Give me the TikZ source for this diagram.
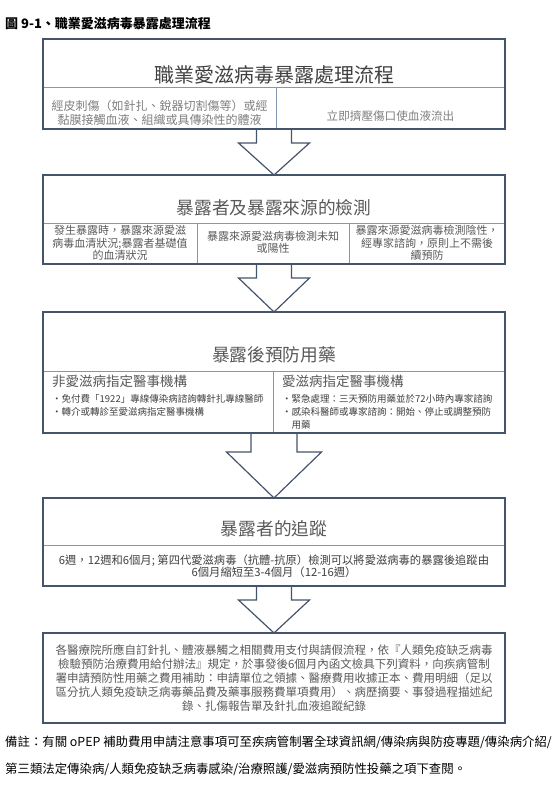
\documentclass[tikz,border=0pt]{standalone}
\usepackage{fontspec}
\setmainfont{Noto Sans CJK TC}
\usetikzlibrary{positioning,calc,backgrounds}

\definecolor{framecol}{HTML}{44546A}
\definecolor{divcol}{HTML}{8497B0}
\definecolor{titlecol}{HTML}{595959}
\definecolor{bodycol}{HTML}{595959}
\definecolor{darkcol}{HTML}{404040}
\definecolor{lightcol}{HTML}{7F7F7F}

% block arrow: from, to, half shaft, half head, shaft length
\newcommand{\blockarrow}[5]{%
  \draw[arrowline] ($(#1.south)+(-#3,0)$) -- ($(#1.south)+(-#3,-#5)$) -- ($(#1.south)+(-#4,-#5)$)
    -- (#2.north) -- ($(#1.south)+(#4,-#5)$) -- ($(#1.south)+(#3,-#5)$) -- ($(#1.south)+(#3,0)$);}

\begin{document}
\begin{tikzpicture}[x=1pt,y=1pt,
  frame/.style={draw=framecol,line width=1.4pt,minimum width=462pt,inner sep=0pt,outer sep=0pt},
  divider/.style={draw=divcol,line width=0.8pt},
  arrowline/.style={draw=framecol,line width=1.2pt,line join=miter},
  ttl/.style={text=titlecol,inner sep=0pt,font=\fontsize{17.7}{20}\selectfont},
  cell/.style={align=center,inner sep=0pt,text=bodycol,font=\fontsize{11}{12.3}\selectfont},
  subhead/.style={anchor=west,inner sep=0pt,text=titlecol,font=\fontsize{13.5}{15}\selectfont},
  bullets/.style={anchor=north west,align=left,inner sep=0pt,text=darkcol,font=\fontsize{9.5}{13}\selectfont},
  note/.style={anchor=west,inner sep=0pt,text=black,font=\fontsize{12.4}{15}\selectfont}]
  \useasboundingbox (0,0) rectangle (554,-794);

  \node[note,font=\bfseries\fontsize{13}{15}\selectfont] (caption) at (5,-24) {圖 9-1、職業愛滋病毒暴露處理流程};

  % frames
  \node[frame,minimum height=90pt] (b1) at (274,-84) {};
  \node[frame,minimum height=89pt,below=46pt of b1] (b2) {};
  \node[frame,minimum height=121pt,below=48pt of b2] (b3) {};
  \node[frame,minimum height=88pt,below=65pt of b3] (b4) {};
  \node[frame,minimum height=90pt,below=47pt of b4] (b5) {};

  % cell dividers
  \begin{scope}[on background layer]
    \draw[divider] ($(b1.north west)+(0,-48)$) -- ($(b1.north east)+(0,-48)$);
    \draw[divider] ($(b1.north west)+(233,-48)$) -- ($(b1.south west)+(233,0)$);
    \draw[divider] ($(b2.north west)+(0,-48)$) -- ($(b2.north east)+(0,-48)$);
    \draw[divider] ($(b2.north west)+(154,-48)$) -- ($(b2.south west)+(154,0)$);
    \draw[divider] ($(b2.north west)+(306,-48)$) -- ($(b2.south west)+(306,0)$);
    \draw[divider] ($(b3.north west)+(0,-59)$) -- ($(b3.north east)+(0,-59)$);
    \draw[divider] ($(b3.north west)+(230,-59)$) -- ($(b3.south west)+(230,0)$);
    \draw[divider] ($(b4.north west)+(0,-47)$) -- ($(b4.north east)+(0,-47)$);
  \end{scope}

  % box 1
  \node[ttl,text=darkcol,font=\fontsize{20}{24}\selectfont] (t1) at ($(b1.north)+(0,-36)$) {職業愛滋病毒暴露處理流程};
  \node[cell,text=lightcol,font=\fontsize{12}{13.5}\selectfont] (exp) at ($(b1.north west)+(116.5,-74)$) {經皮刺傷（如針扎、銳器切割傷等）或經\\黏膜接觸血液、組織或具傳染性的體液};
  \node[cell,text=lightcol,font=\fontsize{11.6}{13.5}\selectfont] (squeeze) at ($(b1.north west)+(347.5,-77)$) {立即擠壓傷口使血液流出};

  % box 2
  \node[ttl] (t2) at ($(b2.north)+(0,-33)$) {暴露者及暴露來源的檢測};
  \node[cell] (serum) at ($(b2.north west)+(77,-68)$) {發生暴露時，暴露來源愛滋\\病毒血清狀況;暴露者基礎值\\的血清狀況};
  \node[cell] (unknown) at ($(b2.north west)+(230,-67)$) {暴露來源愛滋病毒檢測未知\\或陽性};
  \node[cell] (negative) at ($(b2.north west)+(384,-68)$) {暴露來源愛滋病毒檢測陰性，\\經專家諮詢，原則上不需後\\續預防};

  % box 3
  \node[ttl] (t3) at ($(b3.north)+(0,-43)$) {暴露後預防用藥};
  \node[subhead] (nonaids) at ($(b3.north west)+(9,-69)$) {非愛滋病指定醫事機構};
  \node[subhead] (aids) at ($(b3.north west)+(239,-69)$) {愛滋病指定醫事機構};
  \node[bullets] (nonaidsl) at ($(b3.north west)+(9,-82)$) {•免付費「1922」專線傳染病諮詢轉針扎專線醫師\\•轉介或轉診至愛滋病指定醫事機構};
  \node[bullets] (aidsl) at ($(b3.north west)+(239,-82)$) {•緊急處理：三天預防用藥並於72小時內專家諮詢\\•感染科醫師或專家諮詢：開始、停止或調整預防\\\phantom{•}用藥};

  % box 4
  \node[ttl] (t4) at ($(b4.north)+(0,-31)$) {暴露者的追蹤};
  \node[cell,text=darkcol,font=\fontsize{11.3}{12.5}\selectfont] (follow) at ($(b4.north)+(0,-68)$) {6週，12週和6個月; 第四代愛滋病毒（抗體-抗原）檢測可以將愛滋病毒的暴露後追蹤由\\6個月縮短至3-4個月（12-16週）};

  % box 5
  \node[cell,font=\fontsize{11.5}{13.8}\selectfont] (claim) at (b5.center) {各醫療院所應自訂針扎、體液暴觸之相關費用支付與請假流程，依『人類免疫缺乏病毒\\檢驗預防治療費用給付辦法』規定，於事發後6個月內函文檢具下列資料，向疾病管制\\署申請預防性用藥之費用補助：申請單位之領據、醫療費用收據正本、費用明細（足以\\區分抗人類免疫缺乏病毒藥品費及藥事服務費單項費用）、病歷摘要、事發過程描述紀\\錄、扎傷報告單及針扎血液追蹤紀錄};

  % arrows
  \blockarrow{b1}{b2}{17.5}{35.5}{14}
  \blockarrow{b2}{b3}{17.5}{35.5}{14}
  \blockarrow{b3}{b4}{23}{47.5}{19}
  \blockarrow{b4}{b5}{17.5}{35.5}{14}

  \node[note] (remark1) at (5,-742) {備註：有關 oPEP 補助費用申請注意事項可至疾病管制署全球資訊網/傳染病與防疫專題/傳染病介紹/};
  \node[note] (remark2) at (5,-769) {第三類法定傳染病/人類免疫缺乏病毒感染/治療照護/愛滋病預防性投藥之項下查閱。};
\end{tikzpicture}
\end{document}
